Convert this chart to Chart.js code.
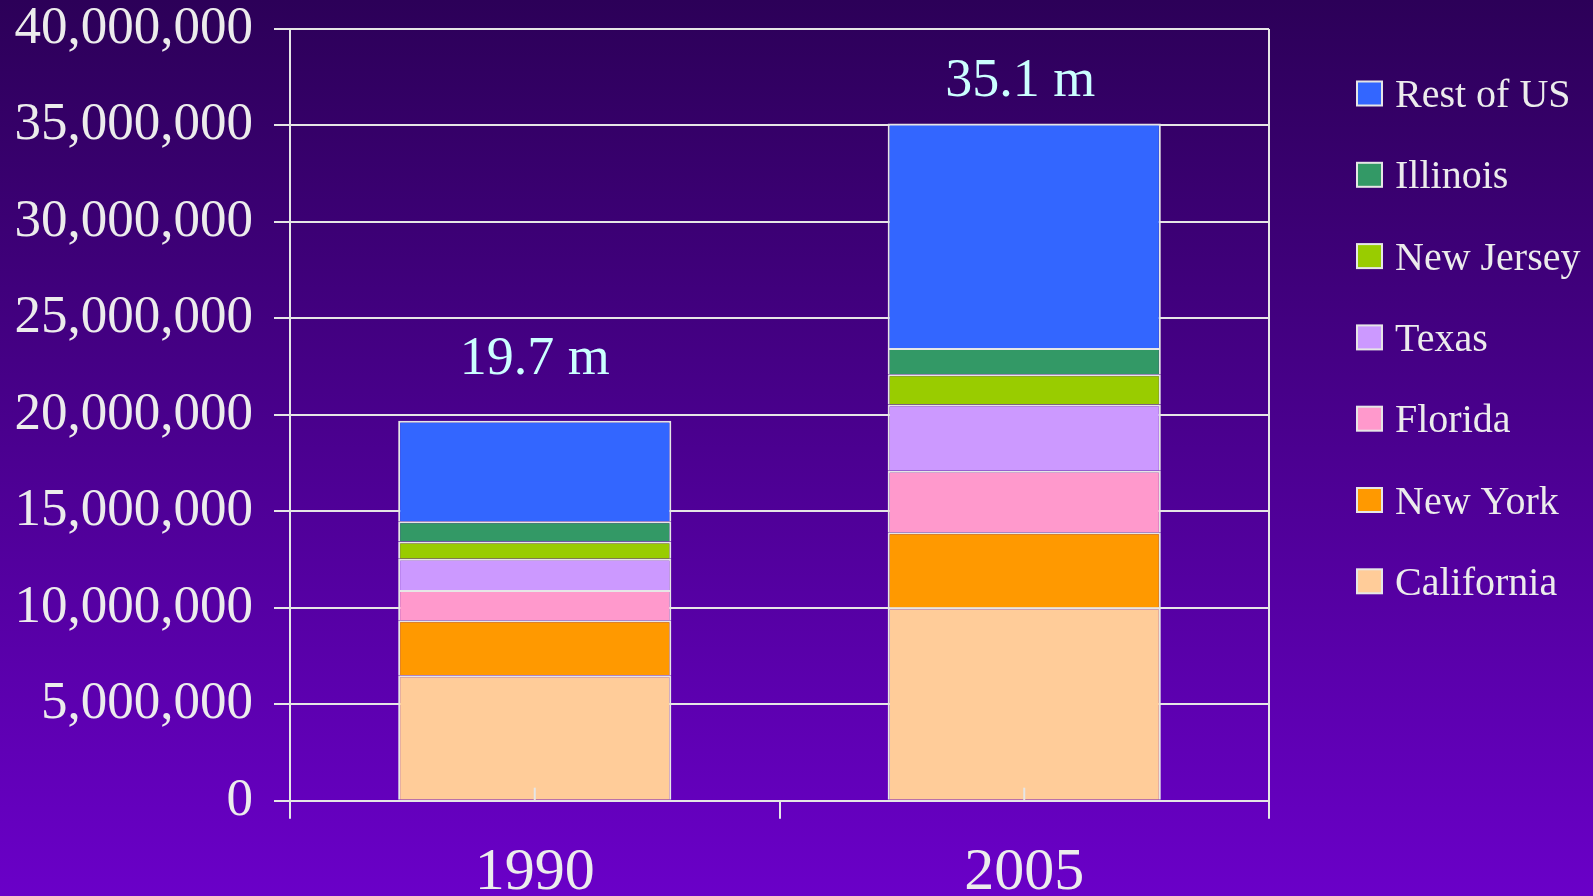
<!DOCTYPE html>
<html>
<head>
<meta charset="utf-8">
<script src="https://cdn.jsdelivr.net/npm/chart.js@4.4.1/dist/chart.umd.min.js"></script>
<style>
  html, body { margin: 0; padding: 0; }
  body {
    width: 1593px; height: 896px; overflow: hidden;
    background: linear-gradient(to bottom, #2c0058 0%, #6a00c8 100%);
  }
  canvas { display: block; }
</style>
</head>
<body>
<canvas id="grafico" width="1593" height="896"></canvas>
<script>
// Datos
const years = ['1990', '2005'];
const california = [6500000, 10020000];
const newYork = [2850000, 3890000];
const florida = [1570000, 3190000];
const texas = [1620000, 3440000];
const newJersey = [900000, 1570000];
const illinois = [1040000, 1360000];
const restOfUs = [5210000, 11630000];
const totalLabels = ['19.7 m', '35.1 m'];
const yTicks = [0, 5000000, 10000000, 15000000, 20000000, 25000000, 30000000, 35000000, 40000000];

const series = [
  { label: 'California', data: california, color: '#ffcc99' },
  { label: 'New York', data: newYork, color: '#ff9900' },
  { label: 'Florida', data: florida, color: '#ff99cc' },
  { label: 'Texas', data: texas, color: '#cc99ff' },
  { label: 'New Jersey', data: newJersey, color: '#99cc00' },
  { label: 'Illinois', data: illinois, color: '#339966' },
  { label: 'Rest of US', data: restOfUs, color: '#3366ff' },
];

const lineColor = '#e6e6e6';
const textColor = '#ececec';
const serif = '"Liberation Serif", "Times New Roman", serif';

// Marco, marcas menores, totales y leyenda
const extras = {
  id: 'extras',
  beforeDatasetsDraw(chart) {
    const { ctx, chartArea } = chart;
    ctx.save();
    ctx.strokeStyle = lineColor;
    ctx.lineWidth = 2;
    ctx.beginPath();
    ctx.moveTo(chartArea.right, chartArea.top);
    ctx.lineTo(chartArea.right, chartArea.bottom);
    ctx.stroke();
    ctx.restore();
  },
  afterDatasetsDraw(chart) {
    const { ctx, chartArea } = chart;
    const x = chart.scales.x;
    const y = chart.scales.y;
    ctx.save();
    // marcas en el centro de cada categoría
    ctx.strokeStyle = lineColor;
    ctx.lineWidth = 2;
    years.forEach((_, i) => {
      const px = x.getPixelForValue(i);
      ctx.beginPath();
      ctx.moveTo(px, chartArea.bottom);
      ctx.lineTo(px, chartArea.bottom - 13);
      ctx.stroke();
    });

    // totales sobre las barras
    const gaps = [47, 28];
    const dx = [0, -4];
    ctx.font = '54px ' + serif;
    ctx.fillStyle = '#ccffff';
    ctx.textAlign = 'center';
    ctx.textBaseline = 'alphabetic';
    years.forEach((_, i) => {
      const total = series.reduce((s, d) => s + d.data[i], 0);
      ctx.fillText(totalLabels[i], x.getPixelForValue(i) + dx[i], y.getPixelForValue(total) - gaps[i]);
    });

    // leyenda
    ctx.font = '40px ' + serif;
    ctx.textAlign = 'left';
    const items = series.slice().reverse();
    items.forEach((s, i) => {
      const cy = 93.5 + i * 81.3;
      ctx.fillStyle = s.color;
      ctx.fillRect(1357, cy - 12, 25, 24);
      ctx.strokeStyle = lineColor;
      ctx.lineWidth = 2;
      ctx.strokeRect(1357, cy - 12, 25, 24);
      ctx.fillStyle = textColor;
      ctx.fillText(s.label, 1395, cy + 13.5);
    });
    ctx.restore();
  }
};

new Chart(document.getElementById('grafico'), {
  type: 'bar',
  data: {
    labels: years,
    datasets: series.map(s => ({
      label: s.label,
      data: s.data,
      backgroundColor: s.color,
      borderColor: lineColor,
      borderWidth: 2,
      barPercentage: 0.558,
      categoryPercentage: 1,
    })),
  },
  options: {
    responsive: false,
    animation: false,
    layout: { padding: { top: 29, right: 324, bottom: 0, left: 0 } },
    plugins: {
      legend: { display: false },
      tooltip: { enabled: false },
    },
    scales: {
      x: {
        stacked: true,
        afterFit: scale => { scale.height = 95.3; },
        grid: { drawOnChartArea: false, drawTicks: true, tickLength: 18, color: lineColor, lineWidth: 2 },
        border: { display: true, color: lineColor, width: 2 },
        ticks: { color: textColor, font: { family: serif, size: 60, lineHeight: 1 }, padding: 25 },
      },
      y: {
        stacked: true,
        min: 0,
        max: 40000000,
        afterFit: scale => {
          scale.width = 290;
          scale.paddingTop = 0;
          scale.paddingBottom = 0;
        },
        afterBuildTicks: scale => { scale.ticks = yTicks.map(v => ({ value: v })); },
        grid: { drawTicks: true, tickLength: 16, color: lineColor, lineWidth: 2 },
        border: { display: true, color: lineColor, width: 2 },
        ticks: {
          color: textColor,
          padding: 21,
          font: { family: serif, size: 53, lineHeight: 1 },
          callback: v => v.toLocaleString('en-US'),
        },
      },
    },
  },
  plugins: [extras],
});
</script>
</body>
</html>
